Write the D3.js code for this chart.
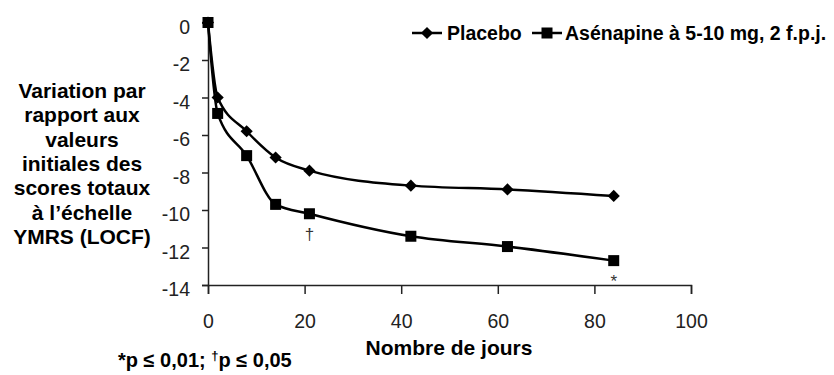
<!DOCTYPE html>
<html>
<head>
<meta charset="utf-8">
<script src="https://cdn.jsdelivr.net/npm/d3@7"></script>
<style>
  body { margin: 0; background: #fff; }
  text { font-family: "Liberation Sans", Arial, sans-serif; }
</style>
</head>
<body>
<div id="chart"></div>
<script>
    // values (days vs change from baseline YMRS)
    const days = [0, 2, 8, 14, 21, 42, 62, 84];
    const placebo = [0, -4.0, -5.8, -7.2, -7.9, -8.7, -8.9, -9.25];
    const asenapine = [0, -4.85, -7.1, -9.7, -10.2, -11.4, -11.95, -12.7];
    const seriesNames = ["Placebo", "Asénapine à 5-10 mg, 2 f.p.j."];
    const xTicks = [0, 20, 40, 60, 80, 100];
    const yTicks = [0, -2, -4, -6, -8, -10, -12, -14];
    const yTitle = ["Variation par", "rapport aux", "valeurs", "initiales des", "scores totaux", "à l’échelle", "YMRS (LOCF)"];
    const signifDays = [21, 84];
    const signifMarks = ["†", "*"];

    const width = 834;
    const height = 375;

    const svg = d3.select("#chart")
      .append("svg")
      .attr("width", width)
      .attr("height", height);

    const x = d3.scaleLinear().domain([0, 100]).range([208, 691]);
    const y = d3.scaleLinear().domain([-14, 0]).range([285, 22.5]);

    // axes
    const xAxis = svg.append("g")
      .attr("transform", "translate(0," + y(-14) + ")")
      .call(d3.axisBottom(x).tickValues(xTicks).tickSize(9).tickPadding(20).tickFormat(d => String(d)));
    const yAxis = svg.append("g")
      .attr("transform", "translate(" + x(0) + ",0)")
      .call(d3.axisLeft(y).tickValues(yTicks).tickSize(6).tickPadding(12).tickFormat(d => String(d)));

    [xAxis, yAxis].forEach(g => {
      g.select(".domain").attr("stroke", "#222").attr("stroke-width", 1.5);
      g.selectAll(".tick line").attr("stroke", "#222").attr("stroke-width", 1.5);
      g.selectAll(".tick text")
        .attr("fill", "#222")
        .style("font-size", "19.5px");
    });
    yAxis.selectAll(".tick text").attr("dy", "0.56em");

    // smoothed lines
    const line = d3.line()
      .x((d, i) => x(days[i]))
      .y(d => y(d))
      .curve(d3.curveMonotoneX);

    [placebo, asenapine].forEach(vals => {
      svg.append("path")
        .attr("d", line(vals))
        .attr("fill", "none")
        .attr("stroke", "#000")
        .attr("stroke-width", 2.5);
    });

    const diamond = d3.symbol().type(d3.symbolDiamond2).size(95);

    svg.selectAll(".pt-placebo")
      .data(placebo)
      .enter()
      .append("path")
      .attr("class", "pt-placebo")
      .attr("transform", (d, i) => "translate(" + x(days[i]) + "," + y(d) + ")")
      .attr("d", diamond)
      .attr("fill", "#000");

    svg.selectAll(".pt-asen")
      .data(asenapine)
      .enter()
      .append("rect")
      .attr("class", "pt-asen")
      .attr("x", (d, i) => x(days[i]) - 5.5)
      .attr("y", d => y(d) - 5.5)
      .attr("width", 11)
      .attr("height", 11)
      .attr("fill", "#000");

    // significance marks under asenapine points
    svg.selectAll(".signif")
      .data(signifDays)
      .enter()
      .append("text")
      .attr("class", "signif")
      .attr("x", d => x(d))
      .attr("y", d => y(asenapine[days.indexOf(d)]) + 26)
      .attr("text-anchor", "middle")
      .style("font-size", "17px")
      .attr("fill", "#333")
      .text((d, i) => signifMarks[i]);

    // legend
    const legend = svg.append("g").attr("transform", "translate(0,33)");
    legend.append("line").attr("x1", 412).attr("x2", 442).attr("stroke", "#000").attr("stroke-width", 2.5);
    legend.append("path").attr("transform", "translate(427,0)").attr("d", diamond).attr("fill", "#000");
    legend.append("text").attr("x", 447).attr("dy", "0.36em")
      .style("font-size", "19.5px").style("font-weight", "bold").text(seriesNames[0]);
    legend.append("line").attr("x1", 532).attr("x2", 562).attr("stroke", "#000").attr("stroke-width", 2.5);
    legend.append("rect").attr("x", 541.5).attr("y", -5.5).attr("width", 11).attr("height", 11).attr("fill", "#000");
    legend.append("text").attr("x", 565).attr("dy", "0.36em")
      .style("font-size", "19.5px").style("font-weight", "bold").text(seriesNames[1]);

    // y title
    svg.append("text")
      .attr("x", 82)
      .attr("y", 98)
      .attr("text-anchor", "middle")
      .style("font-size", "21px")
      .style("font-weight", "bold")
      .selectAll("tspan")
      .data(yTitle)
      .enter()
      .append("tspan")
      .attr("x", 82)
      .attr("dy", (d, i) => i === 0 ? 0 : 24.3)
      .text(d => d);

    // x title
    svg.append("text")
      .attr("x", 449)
      .attr("y", 355)
      .attr("text-anchor", "middle")
      .style("font-size", "21px")
      .style("font-weight", "bold")
      .text("Nombre de jours");

    // footnote
    const foot = svg.append("text")
      .attr("x", 118)
      .attr("y", 367)
      .style("font-size", "20px")
      .style("font-weight", "bold");
    foot.append("tspan").text("*p ≤ 0,01; ");
    foot.append("tspan").attr("dy", -7).style("font-size", "13px").text("†");
    foot.append("tspan").attr("dy", 7).text("p ≤ 0,05");
</script>
</body>
</html>
